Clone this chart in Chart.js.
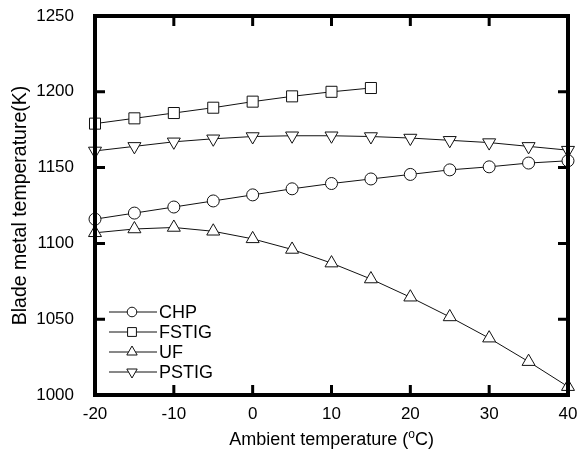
<!DOCTYPE html>
<html>
<head>
<meta charset="utf-8">
<script src="https://cdn.jsdelivr.net/npm/chart.js@4.4.1/dist/chart.umd.min.js"></script>
<style>
  html, body { margin: 0; padding: 0; background: #fff; }
  canvas { display: block; }
</style>
</head>
<body>
<canvas id="chart_blade_temperature" width="583" height="460"></canvas>
<script>
// ambient temperature (degC) and blade metal temperature (K)
const temps = [-20, -15, -10, -5, 0, 5, 10, 15, 20, 25, 30, 35, 40];
const chp   = [1116, 1120, 1124, 1128, 1132, 1136, 1139.5, 1142.5, 1145.5, 1148.5, 1150.5, 1153, 1154.5];
const fstig = [1179, 1182.5, 1186, 1189.5, 1193.5, 1197, 1200, 1202.5];
const uf    = [1107, 1109.5, 1110.5, 1108, 1103, 1096, 1087, 1076.5, 1064.5, 1051.5, 1037.5, 1022, 1005.5];
const pstig = [1161, 1164, 1167, 1169, 1170.5, 1171, 1171, 1170.5, 1169.5, 1168, 1166.5, 1164, 1161.5];

const seriesNames = ['CHP', 'FSTIG', 'UF', 'PSTIG'];
const xTicks = [-20, -10, 0, 10, 20, 30, 40];
const yTicks = [1000, 1050, 1100, 1150, 1200, 1250];
const yTitle = 'Blade metal temperature(K)';
const xTitleParts = ['Ambient temperature (', 'o', 'C)'];

const FONT = "'Liberation Sans', Arial, sans-serif";
Chart.defaults.font.family = FONT;
Chart.defaults.color = '#000';

const points = (ys) => ys.map((v, i) => ({ x: temps[i], y: v }));

const markers = [
  { pointStyle: 'circle',   pointRadius: 6,   pointRotation: 0 },
  { pointStyle: 'rect',     pointRadius: 7.8, pointRotation: 0 },
  { pointStyle: 'triangle', pointRadius: 7.5, pointRotation: 0 },
  { pointStyle: 'triangle', pointRadius: 7.5, pointRotation: 180 }
];

const datasets = [chp, fstig, uf, pstig].map((ys, i) => ({
  label: seriesNames[i],
  data: points(ys),
  borderColor: '#111',
  borderWidth: 1,
  tension: 0,
  pointBackgroundColor: '#fff',
  pointBorderColor: '#111',
  pointBorderWidth: 1,
  clip: false,
  ...markers[i]
}));

// thick box around the plot with inward ticks
const frame = {
  id: 'frame',
  afterDatasetsDraw(chart) {
    const { ctx, chartArea: a, scales: { x, y } } = chart;
    ctx.save();
    ctx.strokeStyle = '#000';
    ctx.lineWidth = 4;
    ctx.strokeRect(a.left, a.top, a.right - a.left, a.bottom - a.top);
    ctx.lineWidth = 3;
    ctx.beginPath();
    xTicks.slice(1, -1).forEach(v => {
      let px = x.getPixelForValue(v);
      ctx.moveTo(px, a.bottom); ctx.lineTo(px, a.bottom - 10);
      ctx.moveTo(px, a.top);    ctx.lineTo(px, a.top + 10);
    });
    yTicks.slice(1, -1).forEach(v => {
      let py = y.getPixelForValue(v);
      ctx.moveTo(a.left, py);  ctx.lineTo(a.left + 10, py);
      ctx.moveTo(a.right, py); ctx.lineTo(a.right - 10, py);
    });
    ctx.stroke();
    ctx.restore();
  }
};

function drawMarker(ctx, style, r, rot, cx, cy) {
  ctx.beginPath();
  if (style === 'circle') {
    ctx.arc(cx, cy, r, 0, Math.PI * 2);
  } else if (style === 'rect') {
    let s = Math.SQRT1_2 * r;
    ctx.rect(cx - s, cy - s, 2 * s, 2 * s);
  } else {
    let rad = rot * Math.PI / 180;
    ctx.moveTo(cx + Math.sin(rad) * r, cy - Math.cos(rad) * r);
    rad += 2 * Math.PI / 3;
    ctx.lineTo(cx + Math.sin(rad) * r, cy - Math.cos(rad) * r);
    rad += 2 * Math.PI / 3;
    ctx.lineTo(cx + Math.sin(rad) * r, cy - Math.cos(rad) * r);
    ctx.closePath();
  }
  ctx.fill();
  ctx.stroke();
}

// legend: short line with a smaller marker on it, inside the plot at lower left
const legendBox = {
  id: 'legendBox',
  afterDraw(chart) {
    const { ctx, chartArea: a } = chart;
    ctx.save();
    ctx.font = '18px ' + FONT;
    ctx.textBaseline = 'middle';
    chart.data.datasets.forEach((ds, i) => {
      let y = a.bottom - 83 + i * 20, x0 = a.left + 14, x1 = a.left + 62;
      ctx.strokeStyle = ds.borderColor;
      ctx.lineWidth = 1;
      ctx.beginPath(); ctx.moveTo(x0, y); ctx.lineTo(x1, y); ctx.stroke();
      ctx.fillStyle = '#fff';
      drawMarker(ctx, ds.pointStyle, ds.pointRadius * 0.8, ds.pointRotation, (x0 + x1) / 2 - 1, y);
      ctx.fillStyle = '#000';
      ctx.fillText(ds.label, x1 + 2, y + 1);
    });
    ctx.restore();
  }
};

// x title with a raised "o" for degrees
const xTitle = {
  id: 'xTitle',
  afterDraw(chart) {
    const { ctx, chartArea: a } = chart;
    const big = '18px ' + FONT, small = '12px ' + FONT;
    ctx.save();
    ctx.font = big;
    let w0 = ctx.measureText(xTitleParts[0]).width, w2 = ctx.measureText(xTitleParts[2]).width;
    ctx.font = small;
    let w1 = ctx.measureText(xTitleParts[1]).width;
    let x = (a.left + a.right) / 2 - (w0 + w1 + w2) / 2, base = a.bottom + 50;
    ctx.fillStyle = '#000';
    ctx.textBaseline = 'alphabetic';
    ctx.font = big;   ctx.fillText(xTitleParts[0], x, base); x += w0;
    ctx.font = small; ctx.fillText(xTitleParts[1], x, base - 7); x += w1;
    ctx.font = big;   ctx.fillText(xTitleParts[2], x, base);
    ctx.restore();
  }
};

new Chart('chart_blade_temperature', {
  type: 'line',
  data: { datasets },
  plugins: [frame, legendBox, xTitle],
  options: {
    responsive: false,
    animation: false,
    devicePixelRatio: 1,
    layout: { padding: { top: 16, right: 15, bottom: 0, left: 0 } },
    plugins: { legend: { display: false }, tooltip: { enabled: false } },
    scales: {
      x: {
        type: 'linear',
        min: -20,
        max: 40,
        afterBuildTicks: (s) => { s.ticks = xTicks.map(v => ({ value: v })); },
        afterFit: (s) => { s.height = 65; s.paddingLeft = 0; s.paddingRight = 0; },
        grid: { display: false },
        border: { display: false },
        ticks: { padding: 1, maxRotation: 0, autoSkip: false, font: { size: 17 }, callback: (v) => String(v) }
      },
      y: {
        type: 'linear',
        min: 1000,
        max: 1250,
        afterBuildTicks: (s) => { s.ticks = yTicks.map(v => ({ value: v })); },
        afterFit: (s) => { s.width = 95; s.paddingTop = 0; s.paddingBottom = 0; },
        grid: { display: false },
        border: { display: false },
        ticks: { padding: 13, font: { size: 17 }, callback: (v) => String(v) },
        title: { display: true, text: yTitle, font: { size: 19.5 }, padding: { top: 9, bottom: 0 } }
      }
    }
  }
});
</script>
</body>
</html>
